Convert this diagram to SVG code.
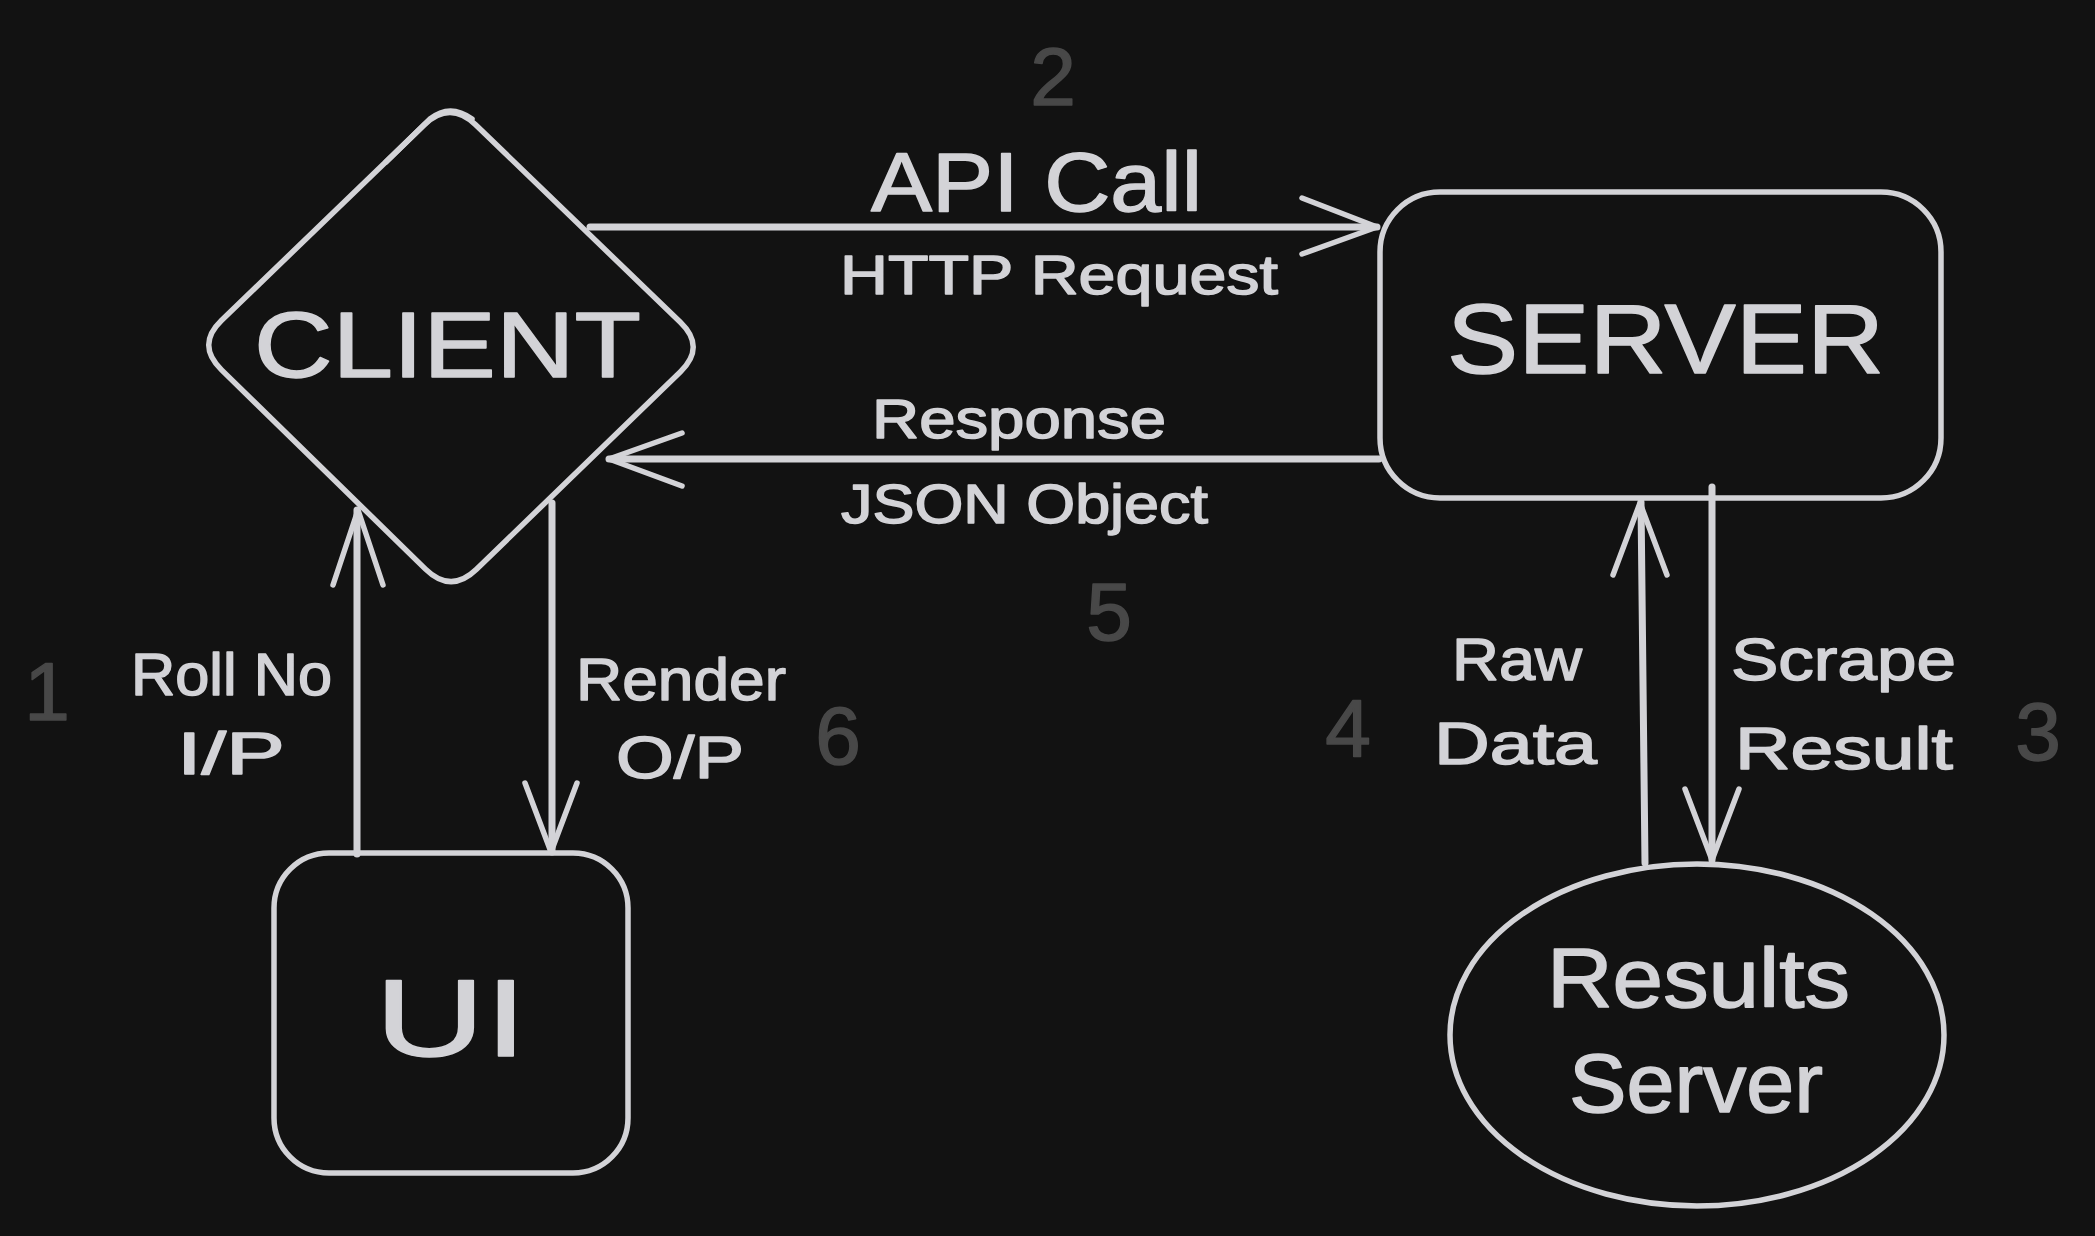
<svg xmlns="http://www.w3.org/2000/svg" width="2095" height="1236" viewBox="0 0 2095 1236">
<style>
  .shape { fill: none; stroke: #d3d3d7; stroke-width: 5.5; stroke-linejoin: round; stroke-linecap: round; }
  .edge { fill: none; stroke: #d3d3d7; stroke-width: 7; stroke-linecap: round; stroke-linejoin: round; }
  .head { fill: none; stroke: #d3d3d7; stroke-width: 5.5; stroke-linecap: round; stroke-linejoin: round; }
  text { font-family: "Liberation Sans", Arial, sans-serif; fill: #d3d3d7; stroke: #d3d3d7; stroke-width: 1.5; stroke-linejoin: round; text-anchor: middle; }
  .num { fill: #484848; stroke: #484848; font-size: 82px; }
  .lbl { font-size: 60px; }
  .sm { font-size: 56px; }
</style>
<rect width="2095" height="1236" fill="#121212"/>

<g id="connectors">
  <g id="edge-api-call">
    <line class="edge" x1="590" y1="227" x2="1377" y2="227"/>
    <path class="head" d="M1302,198 L1377,227 L1302,254"/>
  </g>
  <g id="edge-response">
    <line class="edge" x1="1379" y1="459" x2="609" y2="459"/>
    <path class="head" d="M682,433 L609,459 L682,486"/>
  </g>
  <g id="edge-roll-no">
    <line class="edge" x1="357" y1="854" x2="357" y2="510"/>
    <path class="head" d="M333,585 L358,510 L383,585"/>
  </g>
  <g id="edge-render">
    <line class="edge" x1="552" y1="503" x2="552" y2="852"/>
    <path class="head" d="M525,783 L551,852 L577,783"/>
  </g>
  <g id="edge-raw-data">
    <line class="edge" x1="1645" y1="863" x2="1641" y2="502"/>
    <path class="head" d="M1613,575 L1640,503 L1667,575"/>
  </g>
  <g id="edge-scrape">
    <line class="edge" x1="1712" y1="487" x2="1712" y2="860"/>
    <path class="head" d="M1685,789 L1712,860 L1739,789"/>
  </g>
</g>

<g id="node-client">
  <path class="shape" d="M 475.6 124.7 L 680.4 322.3 Q 706 347 680.5 371.7 L 476.5 569.3 Q 451 594 425.5 569.1 L 221.5 369.9 Q 196 345 221.4 320.5 L 424.6 124.5 Q 450 100 475.6 124.7 Z"/>
  <path class="shape" stroke-width="3" d="M 386 162 L 430 119 Q 450 103 472 119"/>
  <text x="447.5" y="377" font-size="92" textLength="387" lengthAdjust="spacingAndGlyphs">CLIENT</text>
</g>

<g id="node-server">
  <rect class="shape" x="1380" y="192" width="561" height="306" rx="60" ry="60"/>
  <text x="1665.5" y="373" font-size="98" textLength="437" lengthAdjust="spacingAndGlyphs">SERVER</text>
</g>

<g id="node-ui">
  <rect class="shape" x="274" y="853" width="354" height="320" rx="55" ry="55"/>
  <text x="451" y="1056" font-size="110" textLength="152" lengthAdjust="spacingAndGlyphs">UI</text>
</g>

<g id="node-results-server">
  <ellipse class="shape" cx="1697" cy="1035" rx="247" ry="171"/>
  <text x="1698.5" y="1007" font-size="84" textLength="303" lengthAdjust="spacingAndGlyphs">Results</text>
  <text x="1696" y="1112" font-size="84" textLength="254" lengthAdjust="spacingAndGlyphs">Server</text>
</g>

<g id="labels">
  <text x="1036.5" y="211" font-size="84" textLength="331" lengthAdjust="spacingAndGlyphs">API Call</text>
  <text class="sm" x="1059" y="294" textLength="438" lengthAdjust="spacingAndGlyphs">HTTP Request</text>
  <text class="sm" x="1019" y="438" textLength="294" lengthAdjust="spacingAndGlyphs">Response</text>
  <text class="sm" x="1024.5" y="523" textLength="367" lengthAdjust="spacingAndGlyphs">JSON Object</text>
  <text class="lbl" x="231.5" y="695" textLength="201" lengthAdjust="spacingAndGlyphs">Roll No</text>
  <text class="lbl" x="231" y="774" textLength="108" lengthAdjust="spacingAndGlyphs">I/P</text>
  <text class="lbl" x="681" y="700" textLength="210" lengthAdjust="spacingAndGlyphs">Render</text>
  <text class="lbl" x="680" y="778" textLength="128" lengthAdjust="spacingAndGlyphs">O/P</text>
  <text class="lbl" x="1517" y="680" textLength="130" lengthAdjust="spacingAndGlyphs">Raw</text>
  <text class="lbl" x="1515.5" y="764" textLength="163" lengthAdjust="spacingAndGlyphs">Data</text>
  <text class="lbl" x="1843.5" y="680" textLength="225" lengthAdjust="spacingAndGlyphs">Scrape</text>
  <text class="lbl" x="1844" y="769" textLength="218" lengthAdjust="spacingAndGlyphs">Result</text>
</g>

<g id="step-numbers">
  <text class="num" x="47" y="720">1</text>
  <text class="num" x="1053" y="105">2</text>
  <text class="num" x="2038" y="760">3</text>
  <text class="num" x="1348" y="757">4</text>
  <text class="num" x="1109" y="640">5</text>
  <text class="num" x="838" y="764">6</text>
</g>
</svg>
